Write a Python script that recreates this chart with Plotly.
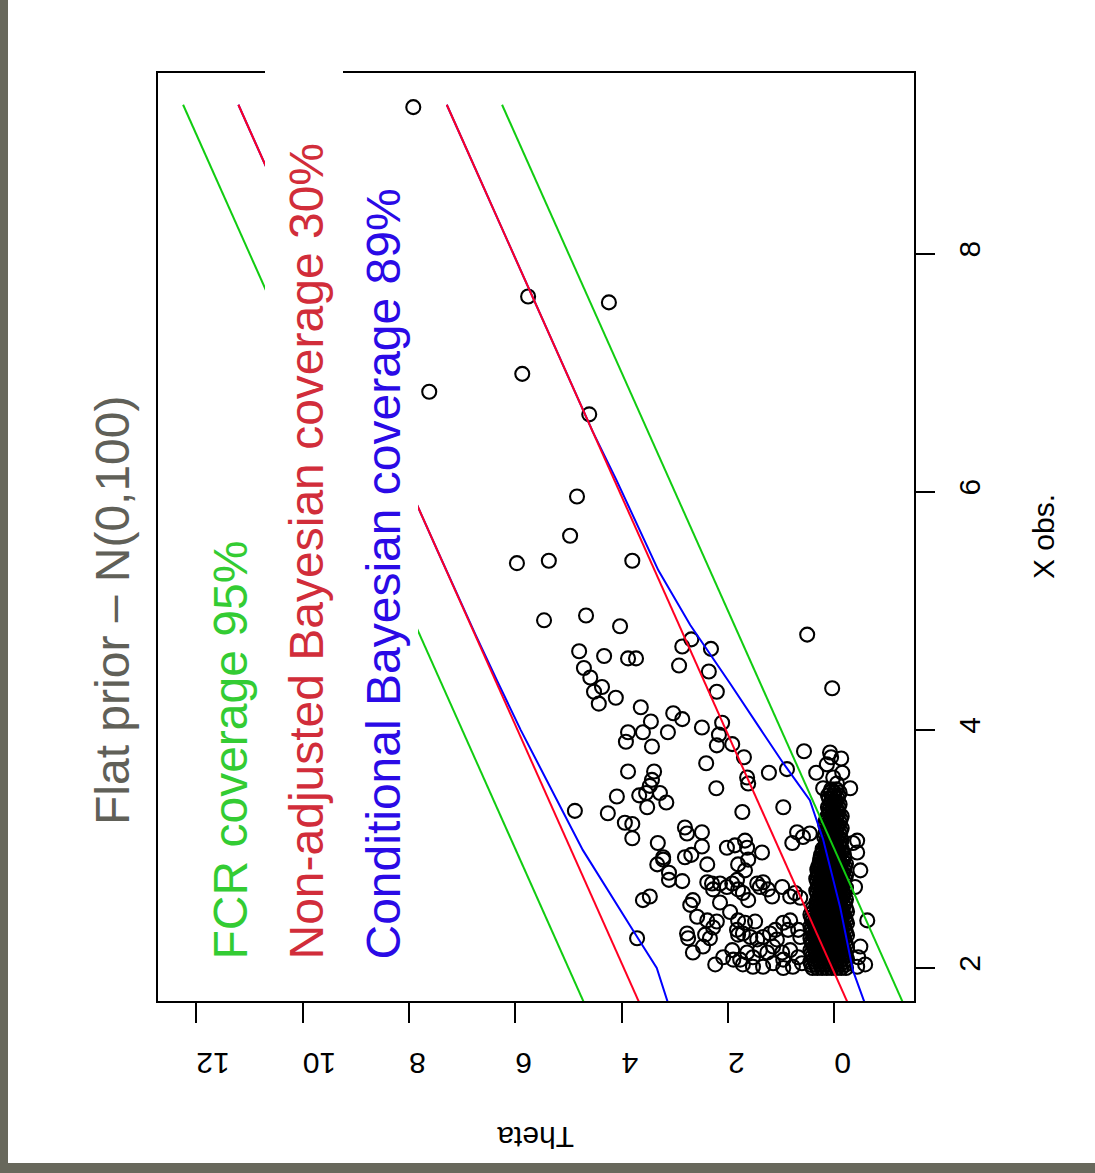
import plotly.graph_objects as go

# ---------------------------------------------------------------
# Observed X vs. true Theta for selected effects (X > 2),
# with interval bounds from three procedures.
# Theta runs along the horizontal axis (reversed), X obs. vertically.
# ---------------------------------------------------------------

# scattered selected effects: observed X and true theta
x_obs = [
    9.23, 6.84, 7.64, 7.59, 6.99, 6.65, 5.96, 5.63, 5.40, 5.42, 5.42, 4.92, 4.96, 4.87,
    4.66, 4.62, 4.60, 4.60, 4.52, 4.44, 4.36, 4.32, 4.22, 4.27, 4.19, 4.07, 4.14, 4.09,
    4.02, 4.06, 4.76, 4.70, 4.68, 4.54, 4.49, 4.32, 4.80, 4.35,
    3.98, 3.98, 3.90, 3.86, 3.98, 3.96, 3.87, 3.88, 3.77, 3.72, 3.60, 3.55, 3.64, 3.67,
    3.82, 3.81, 3.77, 3.76, 3.64, 3.71, 3.64, 3.60, 3.31, 3.35, 3.65, 3.65, 3.58, 3.53,
    3.44, 3.45, 3.47, 3.47, 3.39, 3.35, 3.32, 3.30, 3.22, 3.21, 3.09, 3.05, 3.18, 3.13,
    3.14, 3.02, 3.51, 3.01, 3.03, 3.07, 2.93, 2.93, 2.95, 3.51, 3.51, 3.55, 3.14, 3.10,
    3.13, 3.05, 3.05, 3.07,
    2.25, 2.57, 2.60, 2.87, 2.91, 2.74, 2.73, 2.80, 2.87, 2.72, 2.71, 2.66, 2.71, 2.68,
    2.71, 2.74, 2.87, 2.53, 2.57, 2.43, 2.55, 2.47, 2.40, 2.34, 2.39, 2.29, 2.25, 2.28,
    2.25, 2.18, 2.13, 2.03, 2.09, 2.15, 2.07, 2.32,
    3.01, 2.97, 2.91, 2.82, 2.66, 2.63, 2.71, 2.72, 2.66, 2.68, 2.60, 2.68, 2.60, 2.63,
    2.59, 2.57, 2.38, 2.39, 2.40, 2.28, 2.29, 2.26, 2.24, 2.26, 2.29, 2.32, 2.24, 2.38,
    2.40, 2.32, 2.32, 2.26, 2.07, 2.13, 2.09, 2.15, 2.13, 2.18, 2.13, 2.07, 2.15, 2.09,
    2.04, 2.01, 2.03, 2.01, 2.01, 2.04, 2.00,
    2.97, 2.82, 2.68, 2.40, 2.18, 2.09, 2.03, 2.01,
]
theta = [
    7.92, 7.62, 5.76, 4.24, 5.87, 4.61, 4.84, 4.97, 5.97, 5.37, 3.80, 5.46, 4.67, 4.03,
    4.80, 4.33, 3.88, 3.73, 4.71, 4.59, 4.37, 4.52, 4.43, 4.11, 3.64, 3.45, 3.03, 2.86,
    2.49, 2.11, 2.69, 2.86, 2.32, 2.92, 2.36, 2.21, 0.51, 0.04,
    3.88, 3.60, 3.92, 3.43, 3.13, 2.17, 2.21, 1.92, 1.70, 2.41, 1.64, 1.62, 1.23, 0.89,
    0.57, 0.08, 0.06, -0.13, 0.34, 0.14, -0.15, 0.02, 1.73, 0.96, 3.88, 3.39, 3.43, 3.47,
    4.09, 3.67, 3.54, 3.28, 3.16, 3.52, 4.88, 4.26, 3.94, 3.80, 3.80, 3.32, 2.81, 2.77,
    2.49, 2.49, 2.22, 2.02, 1.87, 1.68, 3.22, 2.81, 2.69, -0.30, 0.21, -0.05, 0.70, 0.59,
    0.46, 0.79, -0.35, -0.43,
    3.71, 3.60, 3.47, 3.33, 3.22, 3.11, 2.86, 3.11, 2.39, 2.39, 2.30, 2.28, 2.15, 2.02,
    1.92, 1.83, 1.81, 2.71, 2.66, 2.58, 2.15, 1.96, 2.39, 2.28, 2.21, 2.77, 2.75, 2.43,
    2.34, 2.47, 2.66, 2.24, 2.09, 1.92, 1.90, 1.83,
    1.64, 1.36, 1.62, 1.68, 1.81, 1.72, 1.45, 1.34, 1.25, 1.40, 1.17, 0.98, 0.83, 0.74,
    0.64, 1.62, 1.68, 1.49, 1.81, 1.81, 1.72, 1.58, 1.45, 1.34, 1.21, 1.11, 1.08, 0.96,
    0.83, 0.87, 0.68, 0.64, 1.77, 1.64, 1.53, 1.40, 1.26, 1.15, 0.98, 0.96, 0.83, 0.68,
    0.61, 0.78, 1.72, 1.53, 1.34, 1.15, 0.96,
    -0.43, -0.49, -0.39, -0.62, -0.49, -0.45, -0.58, -0.43,
]

# the dense band of near-null effects just above the threshold:
# one row per observed X level, listing the theta values at that level
band_x_obs = [
    2.000, 2.025, 2.050, 2.075, 2.100, 2.125, 2.150, 2.175, 2.200, 2.225,
    2.250, 2.275, 2.300, 2.325, 2.350, 2.375, 2.400, 2.425, 2.450, 2.475, 2.500,
    2.525, 2.550, 2.575, 2.600, 2.625, 2.650, 2.675, 2.700, 2.725, 2.750,
    2.775, 2.800, 2.825, 2.850, 2.875, 2.900, 2.925, 2.950, 2.975, 3.000,
    3.025, 3.050, 3.075, 3.100, 3.125, 3.150, 3.175, 3.200, 3.225, 3.250,
    3.275, 3.300, 3.325, 3.350, 3.375, 3.400, 3.425, 3.450, 3.475, 3.500,
]
band_theta = [
    [-0.22, -0.13, -0.04, 0.05, 0.14, 0.23, 0.32, 0.41],
    [-0.20, -0.11, -0.02, 0.07, 0.16, 0.25, 0.34, 0.43],
    [-0.18, -0.09, 0.00, 0.09, 0.18, 0.27, 0.36, 0.45],
    [-0.24, -0.15, -0.06, 0.03, 0.12, 0.21, 0.30, 0.39],
    [-0.22, -0.13, -0.04, 0.05, 0.14, 0.23, 0.32, 0.41],
    [-0.20, -0.11, -0.02, 0.07, 0.16, 0.25, 0.34, 0.43],
    [-0.18, -0.09, 0.00, 0.09, 0.18, 0.27, 0.36, 0.45],
    [-0.24, -0.15, -0.06, 0.03, 0.12, 0.21, 0.30, 0.39],
    [-0.22, -0.13, -0.04, 0.05, 0.14, 0.23, 0.32, 0.41],
    [-0.20, -0.11, -0.02, 0.07, 0.16, 0.25, 0.34, 0.43],
    [-0.18, -0.09, 0.00, 0.09, 0.18, 0.27, 0.36, 0.45],
    [-0.24, -0.15, -0.06, 0.03, 0.12, 0.21, 0.30, 0.39],
    [-0.22, -0.13, -0.04, 0.05, 0.14, 0.23, 0.32, 0.41],
    [-0.20, -0.11, -0.02, 0.07, 0.16, 0.25, 0.34, 0.43],
    [-0.18, -0.09, 0.00, 0.09, 0.18, 0.27, 0.36, 0.45],
    [-0.24, -0.15, -0.06, 0.03, 0.12, 0.21, 0.30, 0.39],
    [-0.22, -0.13, -0.04, 0.05, 0.14, 0.23, 0.32, 0.41],
    [-0.20, -0.11, -0.02, 0.07, 0.16, 0.25, 0.34, 0.43],
    [-0.18, -0.09, 0.00, 0.09, 0.18, 0.27, 0.36, 0.45],
    [-0.24, -0.15, -0.06, 0.03, 0.12, 0.21, 0.30, 0.39],
    [-0.22, -0.13, -0.04, 0.05, 0.14, 0.23, 0.32, 0.41],
    [-0.18, -0.09, 0.00, 0.09, 0.18, 0.27, 0.32],
    [-0.20, -0.11, -0.02, 0.07, 0.16, 0.25, 0.34],
    [-0.22, -0.13, -0.04, 0.05, 0.14, 0.23, 0.31],
    [-0.16, -0.07, 0.02, 0.11, 0.20, 0.29],
    [-0.18, -0.09, 0.00, 0.09, 0.18, 0.27, 0.32],
    [-0.20, -0.11, -0.02, 0.07, 0.16, 0.25, 0.34],
    [-0.22, -0.13, -0.04, 0.05, 0.14, 0.23, 0.31],
    [-0.16, -0.07, 0.02, 0.11, 0.20, 0.29],
    [-0.18, -0.09, 0.00, 0.09, 0.18, 0.27, 0.32],
    [-0.20, -0.11, -0.02, 0.07, 0.16, 0.25, 0.34],
    [-0.22, -0.13, -0.04, 0.05, 0.14, 0.23, 0.31],
    [-0.16, -0.07, 0.02, 0.11, 0.20, 0.29],
    [-0.18, -0.09, 0.00, 0.09, 0.18, 0.27, 0.32],
    [-0.20, -0.11, -0.02, 0.07, 0.16, 0.25, 0.30],
    [-0.22, -0.13, -0.04, 0.05, 0.14, 0.23, 0.28],
    [-0.16, -0.07, 0.02, 0.11, 0.20, 0.27],
    [-0.18, -0.09, 0.00, 0.09, 0.18, 0.26],
    [-0.18, -0.09, 0.00, 0.09, 0.18, 0.25],
    [-0.14, -0.05, 0.04, 0.13, 0.22],
    [-0.14, -0.05, 0.04, 0.13, 0.22],
    [-0.10, -0.01, 0.08, 0.17],
    [-0.12, -0.03, 0.06, 0.15],
    [-0.14, -0.05, 0.04, 0.13],
    [-0.08, 0.01, 0.10, 0.19],
    [-0.10, -0.01, 0.08, 0.17],
    [-0.12, -0.03, 0.06, 0.15],
    [-0.14, -0.05, 0.04, 0.13],
    [-0.08, 0.01, 0.10, 0.17],
    [-0.10, -0.01, 0.08, 0.17],
    [-0.12, -0.03, 0.06, 0.15],
    [-0.14, -0.05, 0.04, 0.13],
    [-0.08, 0.01, 0.10],
    [-0.06, 0.04, 0.10],
    [-0.08, 0.02, 0.12],
    [-0.10, 0.00, 0.08],
    [-0.04, 0.06],
    [-0.06, 0.04, 0.10],
    [-0.08, 0.02, 0.12],
    [-0.10, 0.00, 0.08],
    [-0.04, 0.06],
]

# FCR-adjusted intervals (green)
fcr_x_obs = [1.50, 9.25]
fcr_lower = [-1.50, 6.25]
fcr_upper = [4.50, 12.25]

# non-adjusted Bayesian intervals (red)
bayes_x_obs = [1.50, 9.25]
bayes_lower = [-0.46, 7.29]
bayes_upper = [3.46, 11.21]

# conditional Bayesian intervals (blue)
cond_lo_x_obs = [1.50, 1.98, 2.51, 3.08, 3.41, 3.58, 3.72, 4.00, 4.39, 4.88, 5.34, 6.10, 6.50, 9.25]
cond_lower = [-0.74, -0.35, -0.11, 0.21, 0.46, 0.74, 0.96, 1.38, 1.96, 2.71, 3.31, 4.10, 4.54, 7.29]
cond_hi_x_obs = [1.50, 2.00, 2.29, 2.60, 2.99, 3.30, 3.69, 4.00, 4.40, 4.80, 5.50, 9.25]
cond_upper = [2.98, 3.34, 3.75, 4.18, 4.73, 5.09, 5.54, 5.90, 6.33, 6.75, 7.46, 11.21]

theta_ticks = [0, 2, 4, 6, 8, 10, 12]
x_obs_ticks = [2, 4, 6, 8]

title_text = "Flat prior \u2013 N(0,100)"
legend_items = [
    ("FCR coverage 95%", "#33cc33"),
    ("Non-adjusted Bayesian coverage 30%", "#d12d3a"),
    ("Conditional Bayesian coverage 89%", "#2a0ae6"),
]

FONT = "Liberation Sans, Arial, Helvetica, sans-serif"
W, H = 1095, 1173
PL, PR, PT, PB = 157, 915, 72, 1002  # plotting-region edges in pixels


def px(xp):
    return (xp - PL) / (PR - PL)


def py(yp):
    return (PB - yp) / (PB - PT)


# expand the band rows into points
band_pts_x, band_pts_t = [], []
for xv, row in zip(band_x_obs, band_theta):
    for tv in row:
        band_pts_x.append(xv)
        band_pts_t.append(tv)

marker = dict(symbol="circle-open", size=14, color="black", line=dict(width=2.1))

fig = go.Figure()
fig.add_trace(go.Scatter(x=band_pts_t, y=band_pts_x, mode="markers", marker=marker,
                         cliponaxis=True, hoverinfo="skip"))
fig.add_trace(go.Scatter(x=theta, y=x_obs, mode="markers", marker=marker, cliponaxis=True))

line_w = 2
for lo_x, lo, hi_x, hi, col in [
    (fcr_x_obs, fcr_lower, fcr_x_obs, fcr_upper, "#11cc11"),
    (cond_lo_x_obs, cond_lower, cond_hi_x_obs, cond_upper, "#0000ff"),
    (bayes_x_obs, bayes_lower, bayes_x_obs, bayes_upper, "#ff0022"),
]:
    fig.add_trace(go.Scatter(x=lo, y=lo_x, mode="lines", line=dict(color=col, width=line_w)))
    fig.add_trace(go.Scatter(x=hi, y=hi_x, mode="lines", line=dict(color=col, width=line_w)))

shapes = [
    # plot box
    dict(type="rect", xref="paper", yref="paper", x0=0, x1=1, y0=0, y1=1,
         line=dict(color="black", width=2), fillcolor="rgba(0,0,0,0)", layer="above"),
    # white backing behind the legend lines of text
    dict(type="rect", xref="paper", yref="paper", x0=px(188), x1=px(265), y0=py(965), y1=py(540),
         line=dict(width=0), fillcolor="white", layer="above"),
    dict(type="rect", xref="paper", yref="paper", x0=px(265), x1=px(343), y0=py(965), y1=py(60),
         line=dict(width=0), fillcolor="white", layer="above"),
    dict(type="rect", xref="paper", yref="paper", x0=px(343), x1=px(418), y0=py(965), y1=py(185),
         line=dict(width=0), fillcolor="white", layer="above"),
    # outer frame strips
    dict(type="rect", xref="paper", yref="paper", x0=px(0), x1=px(8), y0=py(H), y1=py(0),
         line=dict(width=0), fillcolor="#68685c", layer="above"),
    dict(type="rect", xref="paper", yref="paper", x0=px(0), x1=px(W), y0=py(H), y1=py(1163),
         line=dict(width=0), fillcolor="#68685c", layer="above"),
]

annotations = [
    dict(text=title_text, xref="paper", yref="paper", x=px(112), y=py(610),
         xanchor="center", yanchor="middle", textangle=-90, showarrow=False,
         font=dict(family=FONT, size=48, color="#606058")),
    dict(text="Theta", xref="paper", yref="paper", x=px(536), y=py(1138),
         xanchor="center", yanchor="middle", textangle=180, showarrow=False,
         font=dict(family=FONT, size=30, color="black")),
    dict(text="X obs.", xref="paper", yref="paper", x=px(1043), y=py(537),
         xanchor="center", yanchor="middle", textangle=-90, showarrow=False,
         font=dict(family=FONT, size=30, color="black")),
]
for (txt, col), cx in zip(legend_items, [230, 306, 383]):
    annotations.append(dict(text=txt, xref="paper", yref="paper", x=px(cx), y=py(962),
                            xanchor="center", yanchor="bottom", textangle=-90, showarrow=False,
                            font=dict(family=FONT, size=48, color=col)))

fig.update_layout(
    width=W, height=H,
    margin=dict(l=PL, r=W - PR, t=PT, b=H - PB, pad=0),
    paper_bgcolor="white", plot_bgcolor="white",
    showlegend=False,
    shapes=shapes,
    annotations=annotations,
    xaxis=dict(range=[12.741, -1.518], tickvals=theta_ticks, ticktext=[str(t) for t in theta_ticks],
               ticks="outside", ticklen=20, tickwidth=2, tickcolor="black", tickangle=180,
               ticklabelstandoff=24,
               tickfont=dict(family=FONT, size=30, color="black"),
               showline=False, showgrid=False, zeroline=False),
    yaxis=dict(range=[1.7145, 9.525], tickvals=x_obs_ticks, ticktext=[str(t) for t in x_obs_ticks],
               side="right", ticks="outside", ticklen=19, tickwidth=2, tickcolor="black",
               tickangle=-90, ticklabelstandoff=9,
               tickfont=dict(family=FONT, size=30, color="black"),
               showline=False, showgrid=False, zeroline=False),
)

fig.write_html("out.html")
